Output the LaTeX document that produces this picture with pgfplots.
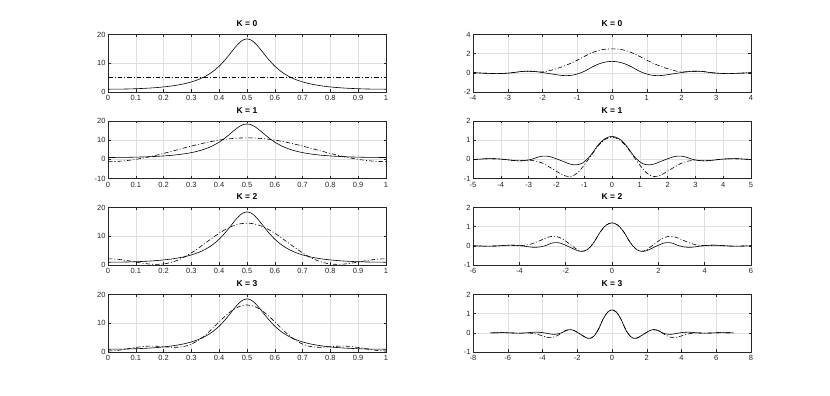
\documentclass[border=0pt]{standalone}
\usepackage{fontspec}
\setmainfont{Liberation Sans}
\usepackage{pgfplots}
\pgfplotsset{compat=1.18}
\usepackage{pgfplotstable}

\definecolor{axgray}{RGB}{38,38,38}
\definecolor{gridgray}{RGB}{223,223,223}

\pgfplotsset{
  sub/.style={
    scale only axis, width=278pt, height=57.5pt, anchor=south west,
    axis line style={axgray, line width=0.5pt},
    tick style={axgray, line width=0.5pt},
    tick align=inside, major tick length=2.5pt,
    grid=major, grid style={gridgray, line width=0.5pt},
    ticklabel style={font=\fontsize{7.5}{8}\selectfont, text=axgray},
    yticklabel style={xshift=1pt},
    /pgf/number format/assume math mode=true,
    title style={font=\bfseries\fontsize{8.5}{9}\selectfont, inner sep=1.5pt},
    every axis plot/.append style={black, line width=0.6pt, no markers},
  },
  dd/.style={dash pattern=on 4.5pt off 2pt on 1pt off 2pt},
  lx/.style={xmin=0, xmax=1, xtick={0,0.1,0.2,0.3,0.4,0.5,0.6,0.7,0.8,0.9,1}},
}

% left column: true function and partial sums
\pgfplotstableread{
x f
0 0.97
0.025 0.98
0.05 1.01
0.075 1.06
0.1 1.14
0.125 1.24
0.15 1.37
0.175 1.54
0.2 1.76
0.225 2.04
0.25 2.41
0.275 2.88
0.3 3.50
0.325 4.33
0.35 5.45
0.375 6.96
0.4 8.99
0.425 11.61
0.45 14.64
0.4625 16.10
0.475 17.34
0.4875 18.18
0.5 18.48
0.5125 18.18
0.525 17.34
0.5375 16.10
0.55 14.64
0.575 11.61
0.6 8.99
0.625 6.96
0.65 5.45
0.675 4.33
0.7 3.50
0.725 2.88
0.75 2.41
0.775 2.04
0.8 1.76
0.825 1.54
0.85 1.37
0.875 1.24
0.9 1.14
0.925 1.06
0.95 1.01
0.975 0.98
1 0.97
}\ftrue

\pgfplotstableread{
x k1 k2 k3
0 -1.20 2.15 0.34
0.025 -1.12 2.07 0.46
0.05 -0.90 1.81 0.75
0.075 -0.52 1.45 1.17
0.1 -0.02 1.02 1.58
0.125 0.62 0.62 1.90
0.15 1.36 0.33 2.05
0.175 2.19 0.22 2.01
0.2 3.08 0.37 1.83
0.225 4.03 0.84 1.66
0.25 5.00 1.65 1.65
0.275 5.97 2.78 1.96
0.3 6.92 4.21 2.75
0.325 7.81 5.84 4.05
0.35 8.64 7.61 5.89
0.375 9.38 9.38 8.10
0.4 10.02 11.05 10.49
0.425 10.52 12.49 12.77
0.45 10.90 13.61 14.67
0.475 11.12 14.31 15.92
0.5 11.20 14.55 16.36
0.525 11.12 14.31 15.92
0.55 10.90 13.61 14.67
0.575 10.52 12.49 12.77
0.6 10.02 11.05 10.49
0.625 9.38 9.38 8.10
0.65 8.64 7.61 5.89
0.675 7.81 5.84 4.05
0.7 6.92 4.21 2.75
0.725 5.97 2.78 1.96
0.75 5.00 1.65 1.65
0.775 4.03 0.84 1.66
0.8 3.08 0.37 1.83
0.825 2.19 0.22 2.01
0.85 1.36 0.33 2.05
0.875 0.62 0.62 1.90
0.9 -0.02 1.02 1.58
0.925 -0.52 1.45 1.17
0.95 -0.90 1.81 0.75
0.975 -1.12 2.07 0.46
1 -1.20 2.15 0.34
}\fpart

% right column: solid curve
\pgfplotstableread{
t g
-7.0 0.000
-6.9 0.000
-6.65 0.005
-6.4 0.008
-6.15 0.007
-6.0 0.003
-5.9 0.000
-5.65 -0.010
-5.4 -0.015
-5.15 -0.012
-5.0 -0.006
-4.9 0.000
-4.65 0.020
-4.4 0.035
-4.15 0.025
-4.0 0.012
-3.9 0.000
-3.6 -0.050
-3.35 -0.080
-3.1 -0.055
-2.9 0.000
-2.6 0.140
-2.4 0.170
-2.2 0.130
-1.95 0.000
-1.75 -0.110
-1.5 -0.250
-1.35 -0.290
-1.2 -0.270
-1.05 -0.180
-0.9 0.000
-0.75 0.240
-0.5 0.740
-0.25 1.080
0 1.200
0.25 1.080
0.5 0.740
0.75 0.240
0.9 0.000
1.05 -0.180
1.2 -0.270
1.35 -0.290
1.5 -0.250
1.75 -0.110
1.95 0.000
2.2 0.130
2.4 0.170
2.6 0.140
2.9 0.000
3.1 -0.055
3.35 -0.080
3.6 -0.050
3.9 0.000
4.0 0.012
4.15 0.025
4.4 0.035
4.65 0.020
4.9 0.000
5.0 -0.006
5.15 -0.012
5.4 -0.015
5.65 -0.010
5.9 0.000
6.0 0.003
6.15 0.007
6.4 0.008
6.65 0.005
6.9 0.000
7.0 0.000
}\gsolid

\begin{document}
\begin{tikzpicture}
\path[use as bounding box] (0,0) rectangle (830pt,396pt);

% ---------- left column ----------
\begin{axis}[sub, lx, at={(108pt,304pt)}, ymin=0, ymax=20, ytick={0,10,20}, title={K = 0}]
\addplot[smooth] table[x=x, y=f] {\ftrue};
\addplot[dd] coordinates {(0,5) (1,5)};
\end{axis}

\begin{axis}[sub, lx, at={(108pt,217.5pt)}, ymin=-10, ymax=20, ytick={-10,0,10,20}, title={K = 1}]
\addplot[smooth] table[x=x, y=f] {\ftrue};
\addplot[dd, smooth] table[x=x, y=k1] {\fpart};
\end{axis}

\begin{axis}[sub, lx, at={(108pt,131pt)}, ymin=0, ymax=20, ytick={0,10,20}, title={K = 2}]
\addplot[smooth] table[x=x, y=f] {\ftrue};
\addplot[dd, smooth] table[x=x, y=k2] {\fpart};
\end{axis}

\begin{axis}[sub, lx, at={(108pt,44pt)}, ymin=0, ymax=20, ytick={0,10,20}, title={K = 3}]
\addplot[smooth] table[x=x, y=f] {\ftrue};
\addplot[dd, smooth] table[x=x, y=k3] {\fpart};
\end{axis}

% ---------- right column ----------
\begin{axis}[sub, at={(473pt,304pt)}, xmin=-4, xmax=4, xtick={-4,-3,-2,-1,0,1,2,3,4},
  ymin=-2, ymax=4, ytick={-2,0,2,4}, title={K = 0}]
\addplot[smooth, restrict x to domain=-4:4] table[x=t, y=g] {\gsolid};
\addplot[dd, smooth] coordinates {
(-4.0,0.012) (-3.9,0.000) (-3.6,-0.050) (-3.35,-0.080) (-3.1,-0.055) (-2.9,0.000)
(-2.6,0.140) (-2.4,0.170) (-2.2,0.130) (-2.0,0.090) (-1.75,0.270) (-1.5,0.550)
(-1.25,0.900) (-1.0,1.320) (-0.75,1.800) (-0.5,2.200) (-0.25,2.440) (0,2.500)
(0.25,2.440) (0.5,2.200) (0.75,1.800) (1.0,1.320) (1.25,0.900) (1.5,0.550)
(1.75,0.270) (2.0,0.090) (2.2,0.130) (2.4,0.170) (2.6,0.140) (2.9,0.000)
(3.1,-0.055) (3.35,-0.080) (3.6,-0.050) (3.9,0.000) (4.0,0.012)};
\end{axis}

\begin{axis}[sub, at={(473pt,217.5pt)}, xmin=-5, xmax=5, xtick={-5,-4,-3,-2,-1,0,1,2,3,4,5},
  ymin=-1, ymax=2, ytick={-1,0,1,2}, title={K = 1}]
\addplot[smooth, restrict x to domain=-5:5] table[x=t, y=g] {\gsolid};
\addplot[dd, smooth] coordinates {
(-5.0,-0.006) (-4.9,0.000) (-4.65,0.020) (-4.4,0.035) (-4.15,0.025) (-4.0,0.012)
(-3.9,0.000) (-3.6,-0.050) (-3.35,-0.080) (-3.1,-0.055) (-3.0,-0.040) (-2.75,-0.090)
(-2.5,-0.200) (-2.25,-0.400) (-2.0,-0.620) (-1.75,-0.830) (-1.5,-0.900) (-1.25,-0.720)
(-1.0,-0.300) (-0.75,0.200) (-0.5,0.700) (-0.25,1.040) (0,1.150)
(0.25,1.040) (0.5,0.700) (0.75,0.200) (1.0,-0.300) (1.25,-0.720) (1.5,-0.900)
(1.75,-0.830) (2.0,-0.620) (2.25,-0.400) (2.5,-0.200) (2.75,-0.090) (3.0,-0.040)
(3.1,-0.055) (3.35,-0.080) (3.6,-0.050) (3.9,0.000) (4.0,0.012) (4.15,0.025)
(4.4,0.035) (4.65,0.020) (4.9,0.000) (5.0,-0.006)};
\end{axis}

\begin{axis}[sub, at={(473pt,131pt)}, xmin=-6, xmax=6, xtick={-6,-4,-2,0,2,4,6},
  ymin=-1, ymax=2, ytick={-1,0,1,2}, title={K = 2}]
\addplot[smooth, restrict x to domain=-6:6] table[x=t, y=g] {\gsolid};
\addplot[dd, smooth] coordinates {
(-6.0,0.003) (-5.9,0.000) (-5.65,-0.010) (-5.4,-0.015) (-5.15,-0.012) (-5.0,-0.006)
(-4.9,0.000) (-4.65,0.020) (-4.4,0.035) (-4.15,0.025) (-4.0,0.012) (-3.75,0.030)
(-3.5,0.090) (-3.25,0.200) (-3.0,0.330) (-2.75,0.450) (-2.5,0.500) (-2.25,0.430)
(-2.0,0.250) (-1.75,0.020) (-1.5,-0.200) (-1.35,-0.280) (-1.2,-0.270) (-1.05,-0.180)
(-0.9,0.000) (-0.75,0.240) (-0.5,0.740) (-0.25,1.080) (0,1.200)
(0.25,1.080) (0.5,0.740) (0.75,0.240) (0.9,0.000) (1.05,-0.180) (1.2,-0.270)
(1.35,-0.280) (1.5,-0.200) (1.75,0.020) (2.0,0.250) (2.25,0.430) (2.5,0.500)
(2.75,0.450) (3.0,0.330) (3.25,0.200) (3.5,0.090) (3.75,0.030) (4.0,0.012)
(4.15,0.025) (4.4,0.035) (4.65,0.020) (4.9,0.000) (5.0,-0.006) (5.15,-0.012)
(5.4,-0.015) (5.65,-0.010) (5.9,0.000) (6.0,0.003)};
\end{axis}

\begin{axis}[sub, at={(473pt,44pt)}, xmin=-8, xmax=8, xtick={-8,-6,-4,-2,0,2,4,6,8},
  ymin=-1, ymax=2, ytick={-1,0,1,2}, title={K = 3}]
\addplot[smooth] table[x=t, y=g] {\gsolid};
\addplot[dd, smooth] coordinates {
(-7.0,0.000) (-6.9,0.000) (-6.65,0.005) (-6.4,0.008) (-6.15,0.007) (-6.0,0.003)
(-5.9,0.000) (-5.65,-0.010) (-5.4,-0.015) (-5.15,-0.012) (-5.0,-0.006) (-4.75,-0.010)
(-4.5,-0.040) (-4.25,-0.090) (-4.0,-0.160) (-3.75,-0.230) (-3.5,-0.250) (-3.25,-0.190)
(-3.0,-0.070) (-2.75,0.080) (-2.6,0.140) (-2.4,0.170) (-2.2,0.130) (-1.95,0.000)
(-1.75,-0.110) (-1.5,-0.250) (-1.35,-0.290) (-1.2,-0.270) (-1.05,-0.180) (-0.9,0.000)
(-0.75,0.240) (-0.5,0.740) (-0.25,1.080) (0,1.200)
(0.25,1.080) (0.5,0.740) (0.75,0.240) (0.9,0.000) (1.05,-0.180) (1.2,-0.270)
(1.35,-0.290) (1.5,-0.250) (1.75,-0.110) (1.95,0.000) (2.2,0.130) (2.4,0.170)
(2.6,0.140) (2.75,0.080) (3.0,-0.070) (3.25,-0.190) (3.5,-0.250) (3.75,-0.230)
(4.0,-0.160) (4.25,-0.090) (4.5,-0.040) (4.75,-0.010) (5.0,-0.006) (5.15,-0.012)
(5.4,-0.015) (5.65,-0.010) (5.9,0.000) (6.0,0.003) (6.15,0.007) (6.4,0.008)
(6.65,0.005) (6.9,0.000) (7.0,0.000)};
\end{axis}
\end{tikzpicture}
\end{document}
